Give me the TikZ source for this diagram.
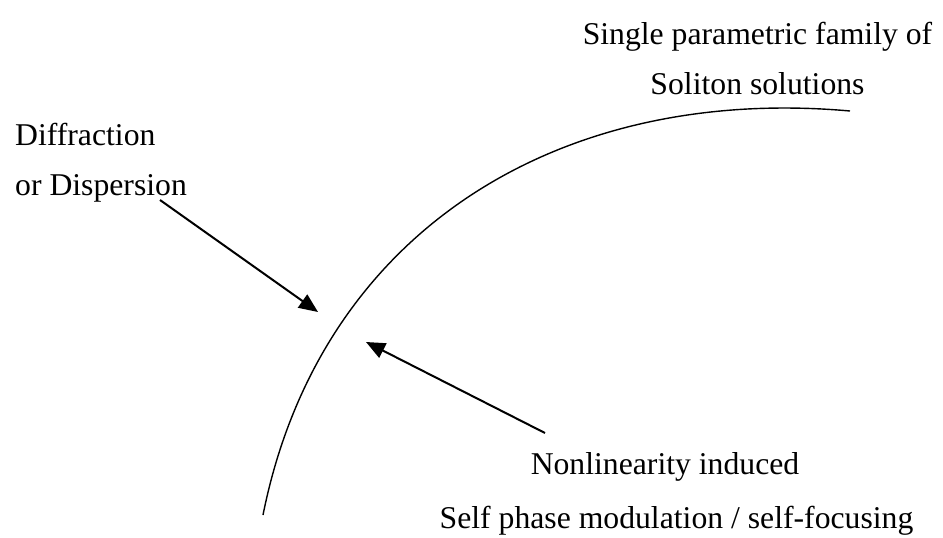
\documentclass[tikz,border=0pt]{standalone}
\usepackage{fontspec}
\setmainfont{Liberation Serif}
\usetikzlibrary{arrows.meta}

\begin{document}
\begin{tikzpicture}[x=1pt, y=-1pt, >={Triangle[length=19pt,width=16pt]},
  font=\fontsize{31.7}{38}\selectfont,
  lbl/.style={inner sep=0pt, anchor=base},
  push/.style={->, line width=2pt}]
\useasboundingbox (0,0) rectangle (943,538);
% labels
\node[lbl] (fam1) at (757.5,44) {Single parametric family of};
\node[lbl] (fam2) at (757.5,94) {Soliton solutions};
\node[lbl, anchor=base west] (dif1) at (15,145) {Diffraction};
\node[lbl, anchor=base west] (dif2) at (15,195) {or Dispersion};
\node[lbl] (non1) at (665,474) {Nonlinearity induced};
\node[lbl] (non2) at (676.5,528) {Self phase modulation / self-focusing};
% soliton curve
\coordinate (cbot) at (263,515);
\coordinate (ctop) at (850,111);
\draw[line width=1.4pt] (cbot) .. controls (320,230) and (560,85) .. (ctop);
% arrows
\coordinate (dtail) at (160,200);
\coordinate (dhead) at (318,312);
\coordinate (ntail) at (545,433);
\coordinate (nhead) at (366,342);
\draw[push] (dtail) -- (dhead);
\draw[push] (ntail) -- (nhead);
\end{tikzpicture}
\end{document}
